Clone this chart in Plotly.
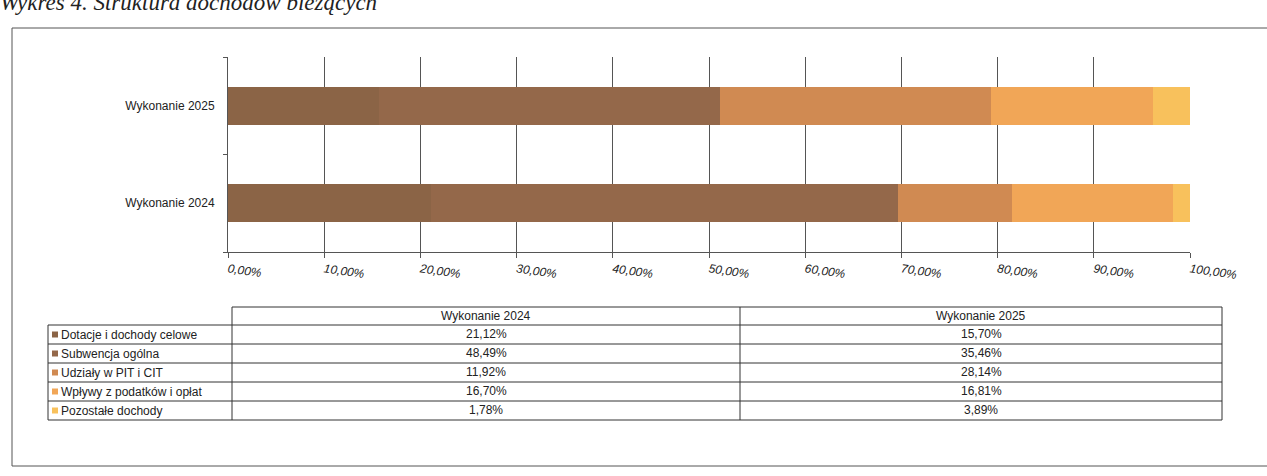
import plotly.graph_objects as go

# ---- data ----
categories = ["Wykonanie 2024", "Wykonanie 2025"]
series_names = [
    "Dotacje i dochody celowe",
    "Subwencja ogólna",
    "Udziały w PIT i CIT",
    "Wpływy z podatków i opłat",
    "Pozostałe dochody",
]
values_2024 = [21.12, 48.49, 11.92, 16.70, 1.78]
values_2025 = [15.70, 35.46, 28.14, 16.81, 3.89]
series_colors = ["#8b6446", "#94684a", "#d08a52", "#f1a657", "#f8c15c"]
x_tick_values = [0, 10, 20, 30, 40, 50, 60, 70, 80, 90, 100]
x_tick_labels = [f"{v:.2f}%".replace(".", ",") for v in x_tick_values]
title_text = "Wykres 4. Struktura dochodów bieżących"

# ---- geometry ----
W, H = 1267, 476
L, R, T, B = 228, 77, 57, 224
PW, PH = W - L - R, H - T - B


def px(x):
    return (x - L) / PW


def py(y):
    return 1 - (y - T) / PH


def fmt(v):
    return f"{v:.2f}%".replace(".", ",")


fig = go.Figure()
for i, name in enumerate(series_names):
    fig.add_trace(
        go.Bar(
            y=categories,
            x=[values_2024[i], values_2025[i]],
            name=name,
            orientation="h",
            marker=dict(color=series_colors[i], line=dict(width=0)),
            showlegend=False,
        )
    )

shapes = []
annotations = []

# outer chart border
shapes.append(dict(type="rect", xref="paper", yref="paper",
                   x0=px(12), x1=px(1290), y0=py(466), y1=py(28),
                   line=dict(color="#555555", width=1)))

# data table
tbl_left, col1, col2, tbl_right = 48, 232, 740, 1222
hdr_top, row_top, row_h = 307, 325, 19
n_rows = len(series_names)
tbl_bottom = row_top + n_rows * row_h
line_style = dict(color="#333333", width=1)

shapes.append(dict(type="line", xref="paper", yref="paper",
                   x0=px(col1), x1=px(tbl_right), y0=py(hdr_top), y1=py(hdr_top),
                   line=line_style))
for k in range(n_rows + 1):
    yy = row_top + k * row_h
    shapes.append(dict(type="line", xref="paper", yref="paper",
                       x0=px(tbl_left), x1=px(tbl_right), y0=py(yy), y1=py(yy),
                       line=line_style))
for xx, ytop in [(tbl_left, row_top), (col1, hdr_top), (col2, hdr_top), (tbl_right, hdr_top)]:
    shapes.append(dict(type="line", xref="paper", yref="paper",
                       x0=px(xx), x1=px(xx), y0=py(ytop), y1=py(tbl_bottom),
                       line=line_style))

tfont = dict(family="Liberation Sans, Arial", size=12, color="#222222")
col_centers = [(col1 + col2) / 2, (col2 + tbl_right) / 2]
for c, cat in enumerate(categories):
    annotations.append(dict(xref="paper", yref="paper", x=px(col_centers[c]),
                            y=py(hdr_top + 9), text=cat, showarrow=False,
                            xanchor="center", yanchor="middle", font=tfont))

for i, name in enumerate(series_names):
    yc = row_top + i * row_h + row_h / 2
    shapes.append(dict(type="rect", xref="paper", yref="paper",
                       x0=px(52), x1=px(58), y0=py(yc + 3), y1=py(yc - 3),
                       fillcolor=series_colors[i], line=dict(width=0)))
    annotations.append(dict(xref="paper", yref="paper", x=px(59), y=py(yc),
                            text=name, showarrow=False, xanchor="left",
                            yanchor="middle", font=tfont))
    for c, vals in enumerate([values_2024, values_2025]):
        annotations.append(dict(xref="paper", yref="paper", x=px(col_centers[c]),
                                y=py(yc - 1), text=fmt(vals[i]), showarrow=False,
                                xanchor="center", yanchor="middle", font=tfont))

# title (cut off at the top of the page, as in the scanned original)
annotations.append(dict(xref="paper", yref="paper", x=px(-2), y=py(2),
                        text=title_text, showarrow=False, xanchor="left",
                        yanchor="middle",
                        font=dict(family="Liberation Serif, Times New Roman",
                                  size=23, color="#222222", style="italic")))

fig.update_layout(
    width=W, height=H,
    margin=dict(l=L, r=R, t=T, b=B),
    barmode="stack",
    bargap=0.61,
    paper_bgcolor="white",
    plot_bgcolor="white",
    shapes=shapes,
    annotations=annotations,
    xaxis=dict(
        range=[0, 100],
        tickvals=x_tick_values,
        ticktext=x_tick_labels,
        tickangle=8,
        tickfont=dict(family="Liberation Sans, Arial", size=12, color="#222222",
                      style="italic"),
        showgrid=True, gridcolor="#555555", gridwidth=1,
        showline=True, linecolor="#555555", linewidth=1,
        ticks="outside", ticklen=5, tickcolor="#555555",
        zeroline=False, fixedrange=True,
    ),
    yaxis=dict(
        categoryorder="array", categoryarray=categories,
        tickfont=dict(family="Liberation Sans, Arial", size=12, color="#222222"),
        showline=True, linecolor="#555555", linewidth=1,
        ticks="outside", ticklen=4, tickcolor="#555555",
        tickson="boundaries",
        showgrid=False, zeroline=False, fixedrange=True,
        ticklabelstandoff=10,
    ),
)

fig.write_html(
    "out.html",
    config={"displayModeBar": False},
    post_script="document.body.style.margin='0';document.body.style.overflow='hidden';",
)
